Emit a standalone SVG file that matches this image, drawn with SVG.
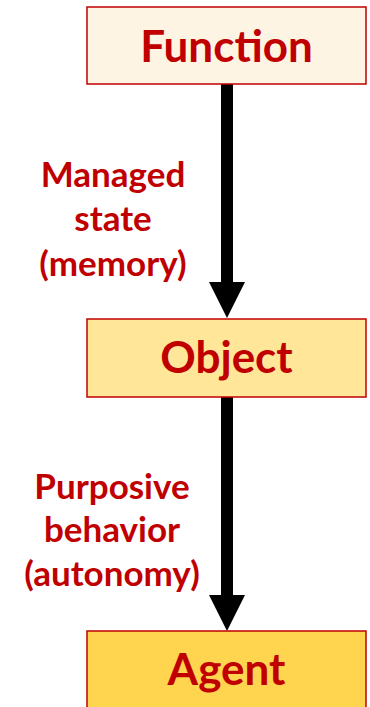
<svg xmlns="http://www.w3.org/2000/svg" width="370" height="707" viewBox="0 0 370 707">
<style>
.box{stroke:#C00000;stroke-width:1.5}
.title{font-family:Lato,"Open Sans",sans-serif;font-weight:bold;font-size:44px;fill:#C00000;text-anchor:middle}
.lbl{font-family:Lato,"Open Sans",sans-serif;font-weight:bold;font-size:35px;fill:#C00000;text-anchor:middle}
.shaft{stroke:#000;stroke-width:12}
</style>
<g id="connectors">
<line class="shaft" x1="227" y1="84" x2="227" y2="284"/>
<polygon points="209,282 245,282 227,318"/>
<line class="shaft" x1="227" y1="397" x2="227" y2="597"/>
<polygon points="209,595 245,595 227,631"/>
</g>
<g id="function">
<rect class="box" x="87" y="7" width="279" height="77" fill="#FEF4E4"/>
<text class="title" x="226.5" y="62">Function</text>
</g>
<g id="object">
<rect class="box" x="87" y="319" width="279" height="78" fill="#FFE699"/>
<text class="title" x="226.5" y="373">Object</text>
</g>
<g id="agent">
<rect class="box" x="87" y="631" width="279" height="90" fill="#FFD44F"/>
<text class="title" x="226.5" y="685">Agent</text>
</g>
<g id="label1">
<text class="lbl" x="113" y="187">Managed</text>
<text class="lbl" x="113" y="231">state</text>
<text class="lbl" x="113" y="276">(memory)</text>
</g>
<g id="label2">
<text class="lbl" x="112" y="499">Purposive</text>
<text class="lbl" x="112" y="542">behavior</text>
<text class="lbl" x="112" y="586">(autonomy)</text>
</g>
</svg>
